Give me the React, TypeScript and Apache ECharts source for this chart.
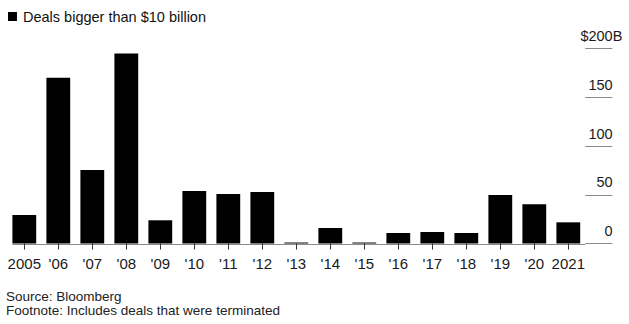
import React, { useEffect, useRef } from "react";
import * as echarts from "echarts";

const categories = ["2005", "'06", "'07", "'08", "'09", "'10", "'11", "'12", "'13", "'14", "'15", "'16", "'17", "'18", "'19", "'20", "2021"];
const dealValues = [29.2, 170, 75.4, 195, 23.8, 53.8, 50.8, 52.8, 1, 15.9, 1, 10.8, 11.8, 10.8, 49.7, 40.2, 21.7];
const seriesName = "Deals bigger than $10 billion";
const yTicks = { min: 0, max: 200, interval: 50 };
const sourceText = "Source: Bloomberg";
const footnoteText = "Footnote: Includes deals that were terminated";

const FONT = "'Liberation Sans', Arial, Helvetica, sans-serif";

export default function App() {
  const ref = useRef<HTMLDivElement>(null);
  useEffect(() => {
    if (!ref.current) return;
    document.body.style.margin = "0";
    const chart = echarts.init(ref.current, undefined, { renderer: "svg" });
    chart.setOption({
      animation: false,
      backgroundColor: "#ffffff",
      textStyle: { fontFamily: FONT },
      legend: {
        show: true,
        left: 8,
        top: 9,
        padding: 0,
        icon: "rect",
        itemWidth: 9,
        itemHeight: 9,
        selectedMode: false,
        data: [seriesName],
        textStyle: { fontFamily: FONT, fontSize: 14.5, color: "#111", padding: [0, 0, 0, 1] },
      },
      grid: { left: 7.3, right: 43.7, top: 48.5, bottom: 80.5, containLabel: false },
      xAxis: {
        type: "category",
        data: categories,
        axisLine: { show: false },
        axisTick: { show: true, alignWithLabel: true, length: 6, lineStyle: { color: "#333", width: 1 } },
        axisLabel: { fontFamily: FONT, fontSize: 15, color: "#1a1a1a", margin: 12, interval: 0 },
        splitLine: { show: false },
      },
      yAxis: {
        type: "value",
        position: "right",
        min: yTicks.min,
        max: yTicks.max,
        interval: yTicks.interval,
        axisLine: { show: false },
        axisTick: { show: true, inside: false, length: 27, lineStyle: { color: "#8a8a8a", width: 1 } },
        splitLine: { show: false },
        axisLabel: {
          margin: 37,
          align: "right",
          verticalAlign: "bottom",
          padding: [0, 0, 5, 0],
          fontFamily: FONT,
          fontSize: 14.5,
          lineHeight: 15,
          color: "#1a1a1a",
          formatter: (v: number) => (v === yTicks.max ? "$" + v + "{b|B}" : v + "{s|\u00a0}"),
          rich: {
            b: { fontFamily: FONT, fontSize: 14.5, lineHeight: 15, color: "#1a1a1a" },
            s: { width: 9.7, fontFamily: FONT, fontSize: 14.5, lineHeight: 15, color: "#1a1a1a" },
          },
        },
      },
      series: [
        {
          name: seriesName,
          type: "bar",
          data: dealValues,
          barCategoryGap: "30%",
          itemStyle: { color: "#000000" },
        },
      ],
    });

    const firstX = chart.convertToPixel({ xAxisIndex: 0 }, 0) as number;
    const secondX = chart.convertToPixel({ xAxisIndex: 0 }, 1) as number;
    const band = secondX - firstX;
    const y0 = chart.convertToPixel({ yAxisIndex: 0 }, 0) as number;
    const rightX = firstX + band * (categories.length - 0.5);
    const startX = firstX - band * 0.35;

    chart.setOption({
      graphic: [
        {
          type: "line",
          z: -1,
          shape: { x1: startX, y1: Math.round(y0) + 0.5, x2: rightX, y2: Math.round(y0) + 0.5 },
          style: { stroke: "#8a8a8a", lineWidth: 1 },
        },
        {
          type: "text",
          left: 6,
          top: 289.5,
          style: { text: sourceText, font: "13.5px " + FONT, fill: "#222" },
        },
        {
          type: "text",
          left: 6,
          top: 303,
          style: { text: footnoteText, font: "13.5px " + FONT, fill: "#222" },
        },
      ],
    });

    return () => chart.dispose();
  }, []);
  return <div ref={ref} style={{ width: 629, height: 324 }} />;
}
